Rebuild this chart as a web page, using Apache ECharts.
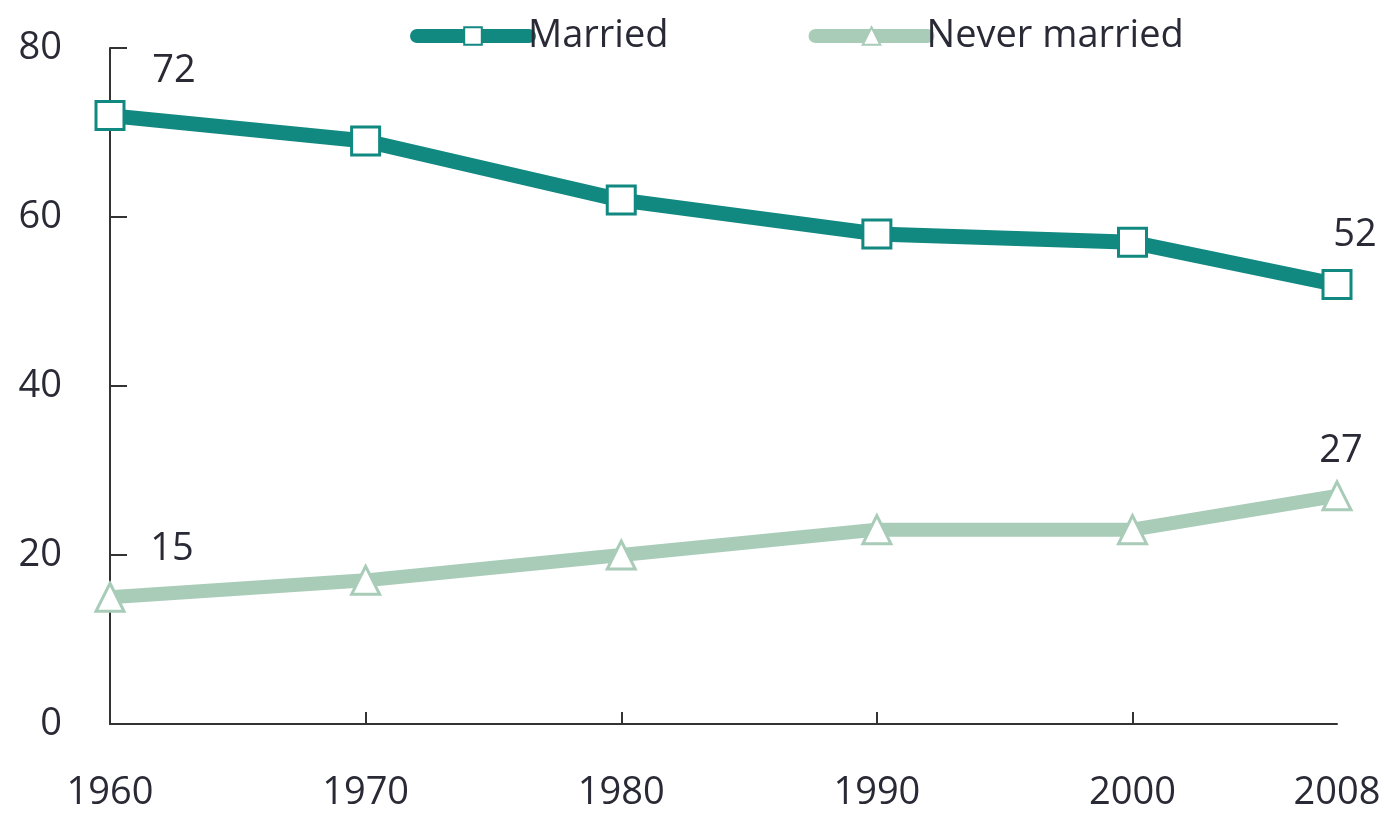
<!DOCTYPE html>
<html>
<head>
<meta charset="utf-8">
<script src="https://cdn.jsdelivr.net/npm/echarts@6/dist/echarts.min.js"></script>
<style>html,body{margin:0;padding:0;background:#fff;}#c{width:1384px;height:816px;}</style>
</head>
<body>
<div id="c"></div>
<script>
const years = [1960, 1970, 1980, 1990, 2000, 2008];
const married = [72, 69, 62, 58, 57, 52];
const neverMarried = [15, 17, 20, 23, 23, 27];
const xTickYears = [1970, 1980, 1990, 2000];
const yTicks = [0, 20, 40, 60, 80];

const FONT = '"Open Sans", sans-serif';
const TXT = '#2a2a36';
const C1 = '#118980';
const C2 = '#a8ccb8';

// label placement (styling only) for first and last points
const labelOffsets = {
  married: {0: [64, -44], 5: [18, -49]},
  never: {0: [62, -48], 5: [4, -45]}
};

function build(vals, key) {
  return years.map((y, i) => {
    const item = {value: [y, vals[i]]};
    if (labelOffsets[key][i]) {
      item.label = {show: true, position: 'inside', offset: labelOffsets[key][i],
        formatter: String(vals[i]), fontSize: 38, color: TXT, fontFamily: FONT};
    }
    return item;
  });
}

const chart = echarts.init(document.getElementById('c'));
chart.setOption({
  animation: false,
  textStyle: {fontFamily: FONT},
  legend: {
    left: 405, top: 12,
    itemWidth: 112, itemHeight: 22, itemGap: 140,
    lineStyle: {width: 14, cap: 'round'},
    textStyle: {fontSize: 38, color: TXT, fontFamily: FONT, padding: [0, 0, 0, -6]},
    data: ['Married', 'Never married']
  },
  grid: {left: 110, right: 47, top: 48, bottom: 92, containLabel: false},
  xAxis: {
    type: 'value', min: 1960, max: 2008, interval: 10,
    axisLine: {show: true, lineStyle: {color: '#333', width: 2}},
    axisTick: {show: true, inside: true, length: 12, customValues: xTickYears, lineStyle: {color: '#333', width: 2}},
    axisLabel: {customValues: years, formatter: v => String(v), fontSize: 38, color: TXT, margin: 50, fontFamily: FONT},
    splitLine: {show: false}
  },
  yAxis: {
    type: 'value', min: 0, max: 80, interval: 20,
    axisLine: {show: true, lineStyle: {color: '#333', width: 2}},
    axisTick: {show: true, inside: true, length: 17, customValues: yTicks, lineStyle: {color: '#333', width: 2}},
    axisLabel: {fontSize: 38, color: TXT, margin: 48, fontFamily: FONT},
    splitLine: {show: false}
  },
  series: [
    {
      name: 'Married', type: 'line', data: build(married, 'married'),
      symbol: 'rect', symbolSize: 28,
      lineStyle: {color: C1, width: 15},
      itemStyle: {color: '#fff', borderColor: C1, borderWidth: 3},
      z: 3
    },
    {
      name: 'Never married', type: 'line', data: build(neverMarried, 'never'),
      symbol: 'triangle', symbolSize: 28,
      lineStyle: {color: C2, width: 14},
      itemStyle: {color: '#fff', borderColor: C2, borderWidth: 3},
      z: 2
    }
  ]
});
</script>
</body>
</html>
